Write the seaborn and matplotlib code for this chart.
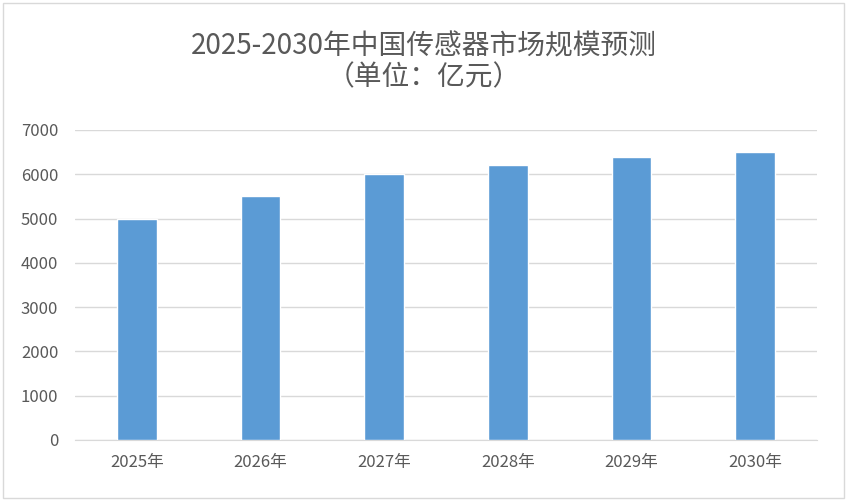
import matplotlib.pyplot as plt
import seaborn as sns
import pandas as pd

years = ['2025年', '2026年', '2027年', '2028年', '2029年', '2030年']
values = [5000, 5500, 6000, 6200, 6400, 6500]

sns.set_style('white')
plt.rcParams['font.family'] = ['Noto Sans CJK SC', 'DejaVu Sans']

df = pd.DataFrame({'year': years, 'value': values})

fig = plt.figure(figsize=(8.47, 5.0), dpi=100)
ax = fig.add_axes([75/847, 60/500, 742/847, 310/500])
sns.barplot(data=df, x='year', y='value', color='#5b9bd5', width=0.32,
            saturation=1, ax=ax, zorder=3)

ax.set_ylim(0, 7000)
ax.set_yticks(range(0, 7001, 1000))
ax.grid(axis='y', color='#d9d9d9', linewidth=1, zorder=0)
for s in ['top', 'right', 'left']:
    ax.spines[s].set_visible(False)
ax.spines['bottom'].set_color('#d9d9d9')
ax.set_xlabel('')
ax.set_ylabel('')
ax.tick_params(axis='both', length=0, labelsize=12, colors='#595959')
ax.tick_params(axis='y', pad=12)
ax.tick_params(axis='x', pad=10)

fig.text(0.5, 0.908, '2025-2030年中国传感器市场规模预测', ha='center', va='center',
         fontsize=20, color='#595959')
fig.text(0.5, 0.846, '（单位：亿元）', ha='center', va='center',
         fontsize=20, color='#595959')

fig.patches.append(plt.Rectangle((0.003, 0.004), 0.993, 0.99, transform=fig.transFigure,
                                 fill=False, edgecolor='#d9d9d9', linewidth=1))

fig.savefig('out.png', dpi=100)
